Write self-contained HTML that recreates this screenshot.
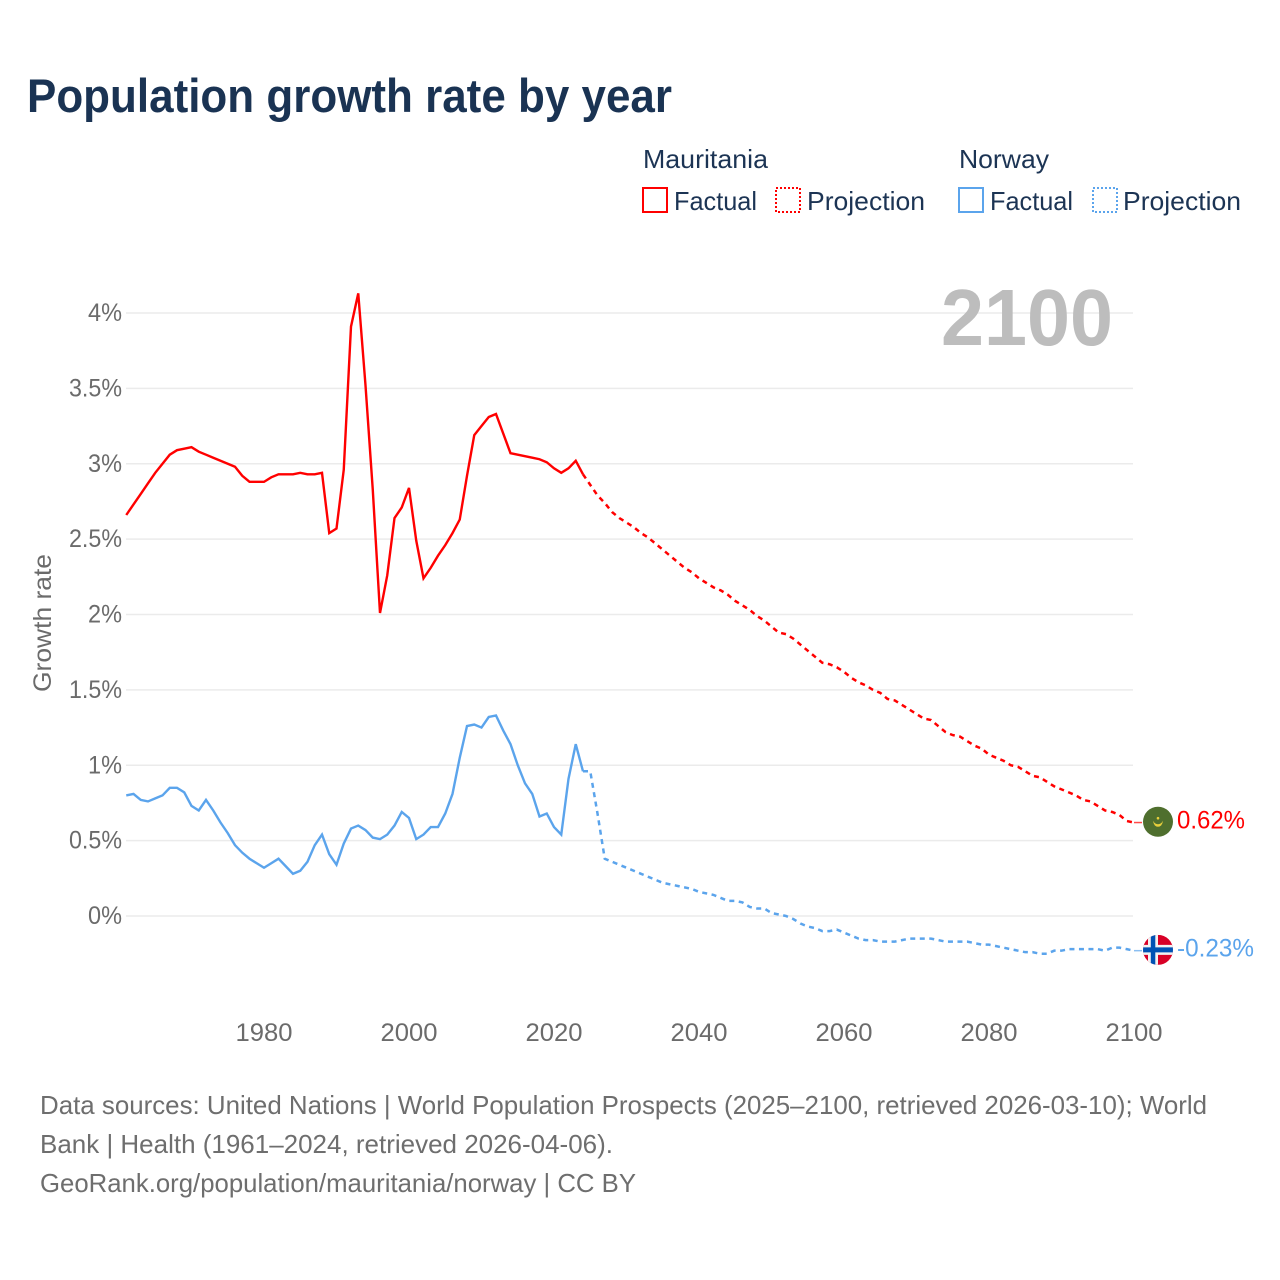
<!DOCTYPE html>
<html lang="en">
<head>
<meta charset="utf-8">
<title>Population growth rate by year</title>
<style>
html,body{margin:0;padding:0;background:#fff;}
svg{display:block;}
text{font-family:"Liberation Sans",sans-serif;}
</style>
</head>
<body>
<svg id="chart" xmlns="http://www.w3.org/2000/svg" width="1280" height="1280" viewBox="0 0 1280 1280">
  <rect x="0" y="0" width="1280" height="1280" fill="#ffffff"/>
  <text x="27" y="112" font-size="47" font-weight="700" fill="#1a3353" textLength="645" lengthAdjust="spacingAndGlyphs">Population growth rate by year</text>

  <g font-size="26" fill="#1c3454">
    <text x="643" y="168" textLength="125" lengthAdjust="spacingAndGlyphs">Mauritania</text>
    <g>
      <rect x="643" y="188" width="24" height="24" fill="none" stroke="#ff0000" stroke-width="2"/>
      <text x="674" y="210" textLength="83" lengthAdjust="spacingAndGlyphs">Factual</text>
    </g>
    <g>
      <rect x="776" y="188" width="24" height="24" fill="none" stroke="#ff0000" stroke-width="2" stroke-dasharray="2 2"/>
      <text x="807" y="210" textLength="118" lengthAdjust="spacingAndGlyphs">Projection</text>
    </g>
    <text x="959" y="168" textLength="90" lengthAdjust="spacingAndGlyphs">Norway</text>
    <g>
      <rect x="959" y="188" width="24" height="24" fill="none" stroke="#5ba4ec" stroke-width="2"/>
      <text x="990" y="210" textLength="83" lengthAdjust="spacingAndGlyphs">Factual</text>
    </g>
    <g>
      <rect x="1093" y="188" width="24" height="24" fill="none" stroke="#5ba4ec" stroke-width="2" stroke-dasharray="2 2"/>
      <text x="1123" y="210" textLength="118" lengthAdjust="spacingAndGlyphs">Projection</text>
    </g>
  </g>

  <g id="grid"></g>
  <g id="yticks"></g>
  <g id="xticks"></g>
  <text transform="translate(51,692) rotate(-90)" font-size="25" fill="#6b6b6b" textLength="138" lengthAdjust="spacingAndGlyphs">Growth rate</text>
  <text x="941" y="345" font-size="80" font-weight="700" fill="#bdbdbd" textLength="172" lengthAdjust="spacingAndGlyphs">2100</text>
  <g id="series"></g>
  <g id="ends"></g>

  <g font-size="26" fill="#6e6e6e">
    <text x="40" y="1114" textLength="1167" lengthAdjust="spacingAndGlyphs">Data sources: United Nations | World Population Prospects (2025–2100, retrieved 2026-03-10); World</text>
    <text x="40" y="1153" textLength="573" lengthAdjust="spacingAndGlyphs">Bank | Health (1961–2024, retrieved 2026-04-06).</text>
    <text x="40" y="1192" textLength="596" lengthAdjust="spacingAndGlyphs">GeoRank.org/population/mauritania/norway | CC BY</text>
  </g>
</svg>
<script>
const factualStartYear = 1961;
const projectionStartYear = 2025;
const yTickValues = [0, 0.5, 1, 1.5, 2, 2.5, 3, 3.5, 4];
const yTickLabels = ["0%", "0.5%", "1%", "1.5%", "2%", "2.5%", "3%", "3.5%", "4%"];
const xTickValues = [1980, 2000, 2020, 2040, 2060, 2080, 2100];
const xTickLabels = ["1980", "2000", "2020", "2040", "2060", "2080", "2100"];

const mauritaniaFactual = [
  2.66,2.73,2.80,2.87,2.94,3.00,3.06,3.09,3.10,3.11,
  3.08,3.06,3.04,3.02,3.00,2.98,2.92,2.88,2.88,2.88,
  2.91,2.93,2.93,2.93,2.94,2.93,2.93,2.94,2.54,2.57,
  2.96,3.91,4.13,3.52,2.83,2.01,2.26,2.64,2.71,2.84,
  2.49,2.24,2.31,2.39,2.46,2.54,2.63,2.92,3.19,3.25,
  3.31,3.33,3.20,3.07,3.06,3.05,3.04,3.03,3.01,2.97,
  2.94,2.97,3.02,2.93
];
const mauritaniaProjection = [
  2.86,2.79,2.74,2.68,2.64,2.61,
  2.58,2.54,2.51,2.47,2.43,2.39,2.35,2.31,2.28,2.24,
  2.21,2.18,2.16,2.13,2.09,2.06,2.03,1.99,1.96,1.92,
  1.88,1.87,1.84,1.80,1.76,1.72,1.68,1.67,1.65,1.62,
  1.58,1.55,1.53,1.50,1.48,1.44,1.43,1.40,1.37,1.34,
  1.31,1.30,1.26,1.22,1.20,1.19,1.16,1.13,1.11,1.07,
  1.05,1.03,1.00,0.99,0.96,0.93,0.92,0.89,0.86,0.84,
  0.82,0.80,0.77,0.76,0.73,0.70,0.69,0.67,0.63,0.62
];
const norwayFactual = [
  0.80,0.81,0.77,0.76,0.78,0.80,0.85,0.85,0.82,0.73,
  0.70,0.77,0.70,0.62,0.55,0.47,0.42,0.38,0.35,0.32,
  0.35,0.38,0.33,0.28,0.30,0.36,0.47,0.54,0.41,0.34,
  0.48,0.58,0.60,0.57,0.52,0.51,0.54,0.60,0.69,0.65,
  0.51,0.54,0.59,0.59,0.68,0.81,1.05,1.26,1.27,1.25,
  1.32,1.33,1.23,1.14,1.00,0.88,0.81,0.66,0.68,0.59,
  0.54,0.91,1.14,0.96
];
const norwayProjection = [
  0.96,0.68,0.38,0.36,0.34,0.32,
  0.30,0.28,0.26,0.24,0.22,0.21,0.20,0.19,0.18,0.16,
  0.15,0.14,0.12,0.10,0.10,0.09,0.06,0.05,0.05,0.02,
  0.01,0.00,-0.02,-0.05,-0.07,-0.08,-0.10,-0.10,-0.09,-0.11,
  -0.13,-0.15,-0.16,-0.16,-0.17,-0.17,-0.17,-0.16,-0.15,-0.15,
  -0.15,-0.15,-0.16,-0.17,-0.17,-0.17,-0.17,-0.18,-0.19,-0.19,
  -0.20,-0.21,-0.22,-0.23,-0.24,-0.24,-0.25,-0.25,-0.23,-0.23,
  -0.22,-0.22,-0.22,-0.22,-0.22,-0.23,-0.21,-0.21,-0.22,-0.23
];

const NS = "http://www.w3.org/2000/svg";
function xScale(year) { return 554 + (year - 2020) * 7.25; }
function yScale(rate) { return 916 - rate * 150.75; }
function make(tag, parent, attrs) {
  const el = document.createElementNS(NS, tag);
  for (const k in attrs) el.setAttribute(k, attrs[k]);
  parent.appendChild(el);
  return el;
}
function linePoints(startYear, values) {
  return values.map(function (v, i) {
    return xScale(startYear + i).toFixed(2) + "," + yScale(v).toFixed(2);
  }).join(" ");
}

const gridGroup = document.getElementById("grid");
const yTickGroup = document.getElementById("yticks");
yTickValues.forEach(function (v, i) {
  const gl = make("line", gridGroup, { x1: 126, x2: 1133, y1: yScale(v), y2: yScale(v), stroke: "#ebebeb", "stroke-width": 1.5 });
  
  
  const label = yTickLabels[i];
  const w = label.length > 2 ? 53 : 34;
  const t = make("text", yTickGroup, { x: 122 - w, y: yScale(v) + 8, "font-size": 25, fill: "#6b6b6b", textLength: w, lengthAdjust: "spacingAndGlyphs" });
  
  
  t.textContent = label;
});

const xTickGroup = document.getElementById("xticks");
xTickValues.forEach(function (y, i) {
  const t = make("text", xTickGroup, { x: xScale(y) - 28.5, y: 1041, "font-size": 25, fill: "#6b6b6b", textLength: 57, lengthAdjust: "spacingAndGlyphs" });
  
  
  t.textContent = xTickLabels[i];
});

function drawSeries(key, color, factual, projection) {
  const g = document.getElementById("series");
  const solid = make("polyline", g, { points: linePoints(factualStartYear, factual), fill: "none", stroke: color, "stroke-width": 2.4, "stroke-linejoin": "miter" });
  
  
  const last = factual[factual.length - 1];
  const joined = [last].concat(projection);
  const dashed = make("polyline", g, { points: linePoints(projectionStartYear - 1, joined), fill: "none", stroke: color, "stroke-width": 2.5, "stroke-dasharray": "5 4.5" });
  
  
}
drawSeries("mauritania", "#ff0000", mauritaniaFactual, mauritaniaProjection);
drawSeries("norway", "#5ba4ec", norwayFactual, norwayProjection);

function drawEnd(key, color, value, labelWidth) {
  const g = document.getElementById("ends");
  const x = xScale(2100);
  const y = yScale(value);
  const conn = make("line", g, { x1: x, x2: x + 8, y1: y, y2: y, stroke: color, "stroke-width": 1.5, opacity: 0.7 });
  
  
  const label = make("text", g, { x: x + 43, y: y + 6, "font-size": 25, fill: color, textLength: labelWidth, lengthAdjust: "spacingAndGlyphs" });
  
  
  label.textContent = value.toFixed(2) + "%";
  const flag = make("g", g, { transform: "translate(" + (x + 24) + "," + (y - 0.8) + ")" });
  
  
  return flag;
}

const mFlag = drawEnd("mauritania", "#ff0000", mauritaniaProjection[mauritaniaProjection.length - 1], 68);
make("circle", mFlag, { cx: 0, cy: 0, r: 15, fill: "#4f6f2e" });
make("path", mFlag, { d: "M-5,-1 Q-4,5 0,5 Q4,5 5,-1 Q3,2.5 0,2.5 Q-3,2.5 -5,-1 Z", fill: "#e8cf3c" });
make("circle", mFlag, { cx: 0, cy: -3.5, r: 1.3, fill: "#e8cf3c" });

const nFlag = drawEnd("norway", "#5ba4ec", norwayProjection[norwayProjection.length - 1], 77);
const nClip = make("clipPath", nFlag, { id: "norway-clip" });
make("circle", nClip, { cx: 0, cy: 0, r: 15 });
const nInner = make("g", nFlag, { "clip-path": "url(#norway-clip)" });
make("rect", nInner, { x: -15, y: -15, width: 30, height: 30, fill: "#d80027" });
make("rect", nInner, { x: -10, y: -15, width: 10, height: 30, fill: "#f2f2f2" });
make("rect", nInner, { x: -15, y: -5, width: 30, height: 10, fill: "#f2f2f2" });
make("rect", nInner, { x: -7.2, y: -15, width: 4.5, height: 30, fill: "#0052b4" });
make("rect", nInner, { x: -15, y: -2.5, width: 30, height: 5, fill: "#0052b4" });
</script>
</body>
</html>
